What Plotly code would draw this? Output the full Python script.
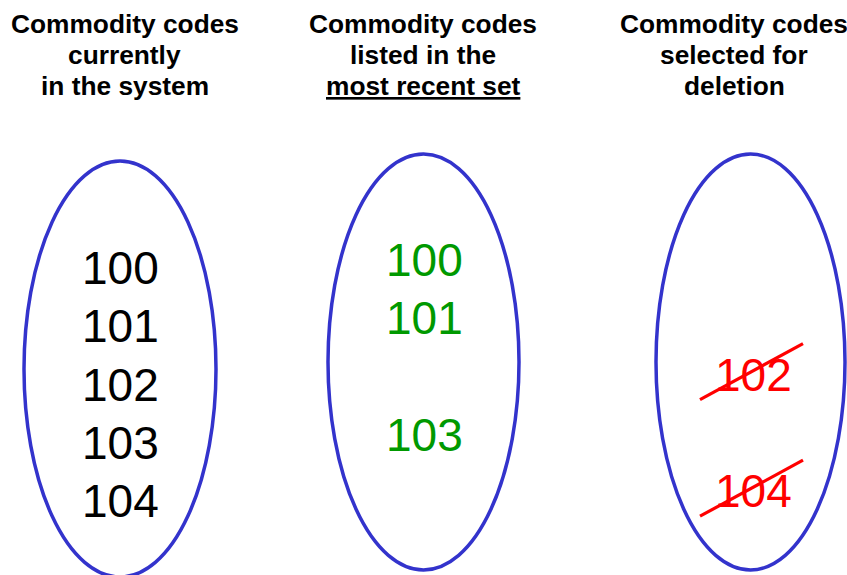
import plotly.graph_objects as go

# ---- data ----
headers = [
    ["Commodity codes", "currently", "in the system"],
    ["Commodity codes", "listed in the", "<u>most recent set</u>"],
    ["Commodity codes", "selected for", "deletion"],
]
codes_current = ["100", "101", "102", "103", "104"]
codes_recent = ["100", "101", "103"]
codes_deleted = ["102", "104"]
all_codes = ["100", "101", "102", "103", "104"]

# ---- layout / style ----
W, H = 847, 575
ellipses = [  # cx, cy, rx, ry
    (120, 369, 96, 208),
    (423.5, 362, 95.5, 208),
    (750.5, 362, 94.5, 208),
]
header_x = [124.5, 423, 734]
header_y = [24, 55, 86]
code_x = [120.5, 424.5, 753]
code_y0 = [268, 260, 258]
slot = 58.3
BLUE = "#3333CC"
colors = ["#000000", "#009900", "#FF0000"]

fig = go.Figure()
shapes = []
annotations = []

for (cx, cy, rx, ry) in ellipses:
    shapes.append(dict(type="circle", xref="x", yref="y",
                       x0=cx - rx, x1=cx + rx, y0=cy - ry, y1=cy + ry,
                       line=dict(color=BLUE, width=3.5)))

for i, lines in enumerate(headers):
    for j, t in enumerate(lines):
        annotations.append(dict(x=header_x[i], y=header_y[j], xref="x", yref="y",
                                text="<b>%s</b>" % t, showarrow=False,
                                xanchor="center", yanchor="middle",
                                font=dict(family="Liberation Sans, Arial", size=26.3, color="black")))

groups = [codes_current, codes_recent, codes_deleted]
for i, g in enumerate(groups):
    for c in g:
        k = all_codes.index(c)
        y = code_y0[i] + k * slot
        annotations.append(dict(x=code_x[i], y=y, xref="x", yref="y", text=c,
                                showarrow=False, xanchor="center", yanchor="middle",
                                font=dict(family="Liberation Sans, Arial", size=46, color=colors[i])))
        if i == 2:
            shapes.append(dict(type="line", xref="x", yref="y",
                               x0=code_x[i] - 53, x1=code_x[i] + 50,
                               y0=y + 25, y1=y - 31,
                               line=dict(color="#FF0000", width=3.2)))

fig.update_layout(
    width=W, height=H, margin=dict(l=0, r=0, t=0, b=0),
    paper_bgcolor="white", plot_bgcolor="white",
    xaxis=dict(range=[0, W], visible=False, fixedrange=True),
    yaxis=dict(range=[H, 0], visible=False, fixedrange=True),
    shapes=shapes, annotations=annotations, showlegend=False,
)
fig.write_html("out.html",
               config={"displayModeBar": False},
               post_script="document.body.style.margin='0';document.body.style.overflow='hidden';")
